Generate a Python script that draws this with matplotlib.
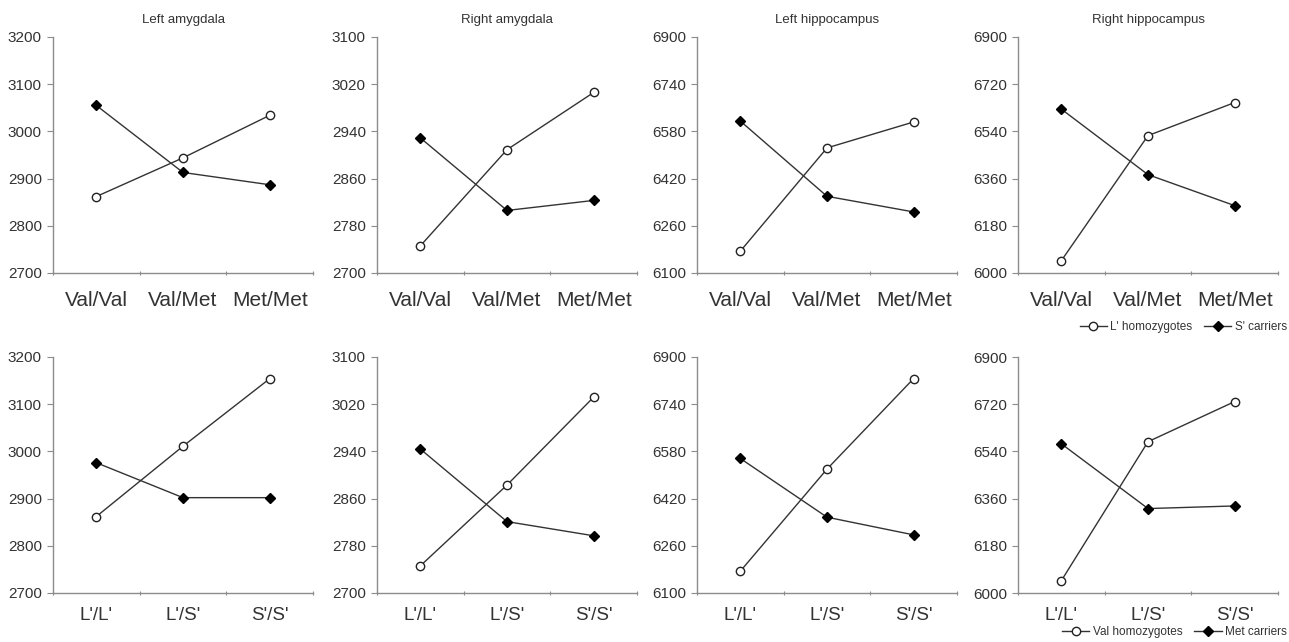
import matplotlib.pyplot as plt

plt.rcParams['font.family'] = ['Liberation Sans', 'DejaVu Sans']

# categories
comt_cats = ["Val/Val", "Val/Met", "Met/Met"]
htt_cats = ["L'/L'", "L'/S'", "S'/S'"]
titles = ["Left amygdala", "Right amygdala", "Left hippocampus", "Right hippocampus"]

# top row: x = COMT genotype, series = 5-HTTLPR group
l_homo = [[2862, 2944, 3034], [2746, 2909, 3006], [6174, 6524, 6612], [6047, 6524, 6650]]
s_carr = [[3055, 2913, 2887], [2929, 2806, 2823], [6615, 6360, 6307], [6625, 6375, 6257]]

# bottom row: x = 5-HTTLPR genotype, series = COMT group
val_homo = [[2862, 3011, 3154], [2746, 2883, 3032], [6174, 6520, 6827], [6047, 6577, 6730]]
met_carr = [[2976, 2902, 2902], [2944, 2821, 2797], [6556, 6357, 6297], [6569, 6322, 6332]]

# y axis ranges (min, max, step)
yranges = [(2700, 3200, 100), (2700, 3100, 80), (6100, 6900, 160), (6000, 6900, 180)]

W, H = 1289, 642
fig = plt.figure(figsize=(W / 100, H / 100), dpi=100)

lefts = [53, 377, 697, 1018]
width = 260
rows = [(37, 273), (357, 593)]

txt = "#333333"
spine = "#8c8c8c"

def style_axis(ax, cats, ymin, ymax, step, xfont, xpad):
    ax.set_xlim(-0.5, 2.5)
    ax.set_ylim(ymin, ymax)
    ax.set_yticks(range(ymin, ymax + 1, step))
    ax.set_xticks([-0.5, 0.5, 1.5, 2.5])
    ax.set_xticklabels([])
    ax.set_xticks([0, 1, 2], minor=True)
    ax.set_xticklabels(cats, minor=True, fontsize=xfont, color=txt)
    ax.tick_params(axis="x", which="minor", length=0, pad=xpad)
    ax.tick_params(axis="x", which="major", length=3, color=spine, direction="inout")
    ax.tick_params(axis="y", length=4, color=spine, labelsize=11, labelcolor=txt, pad=4)
    for s in ["top", "right"]:
        ax.spines[s].set_visible(False)
    for s in ["left", "bottom"]:
        ax.spines[s].set_color(spine)
        ax.spines[s].set_linewidth(1.0)

handles_top = None
handles_bot = None
for r, (top, bot) in enumerate(rows):
    for i in range(4):
        ax = fig.add_axes([lefts[i] / W, 1 - bot / H, width / W, (bot - top) / H])
        ymin, ymax, step = yranges[i]
        if r == 0:
            hollow, filled, cats = l_homo[i], s_carr[i], comt_cats
            xfont, xpad = 15, 13
        else:
            hollow, filled, cats = val_homo[i], met_carr[i], htt_cats
            xfont, xpad = 13.5, 10
        h1, = ax.plot(range(3), hollow, color="#333333", lw=1.0, marker="o", ms=6,
                      mfc="white", mec="#222222", mew=1.0, zorder=3)
        h2, = ax.plot(range(3), filled, color="#333333", lw=1.0, marker="D", ms=5,
                      mfc="black", mec="black", zorder=3)
        style_axis(ax, cats, ymin, ymax, step, xfont, xpad)
        if r == 0:
            ax.set_title(titles[i], fontsize=9.5, color=txt, pad=10)
            handles_top = (h1, h2)
        else:
            handles_bot = (h1, h2)

fig.legend(handles_top, ["L' homozygotes", "S' carriers"], loc="center right",
           bbox_to_anchor=(1287 / W, 1 - 327 / H), ncol=2, frameon=False, fontsize=8.5,
           handlelength=2.3, handletextpad=0.3, columnspacing=1.0, labelcolor=txt,
           borderpad=0, borderaxespad=0)
fig.legend(handles_bot, ["Val homozygotes", "Met carriers"], loc="center right",
           bbox_to_anchor=(1287 / W, 1 - 632 / H), ncol=2, frameon=False, fontsize=8.5,
           handlelength=2.3, handletextpad=0.3, columnspacing=1.0, labelcolor=txt,
           borderpad=0, borderaxespad=0)

fig.savefig("out.png", dpi=100)
